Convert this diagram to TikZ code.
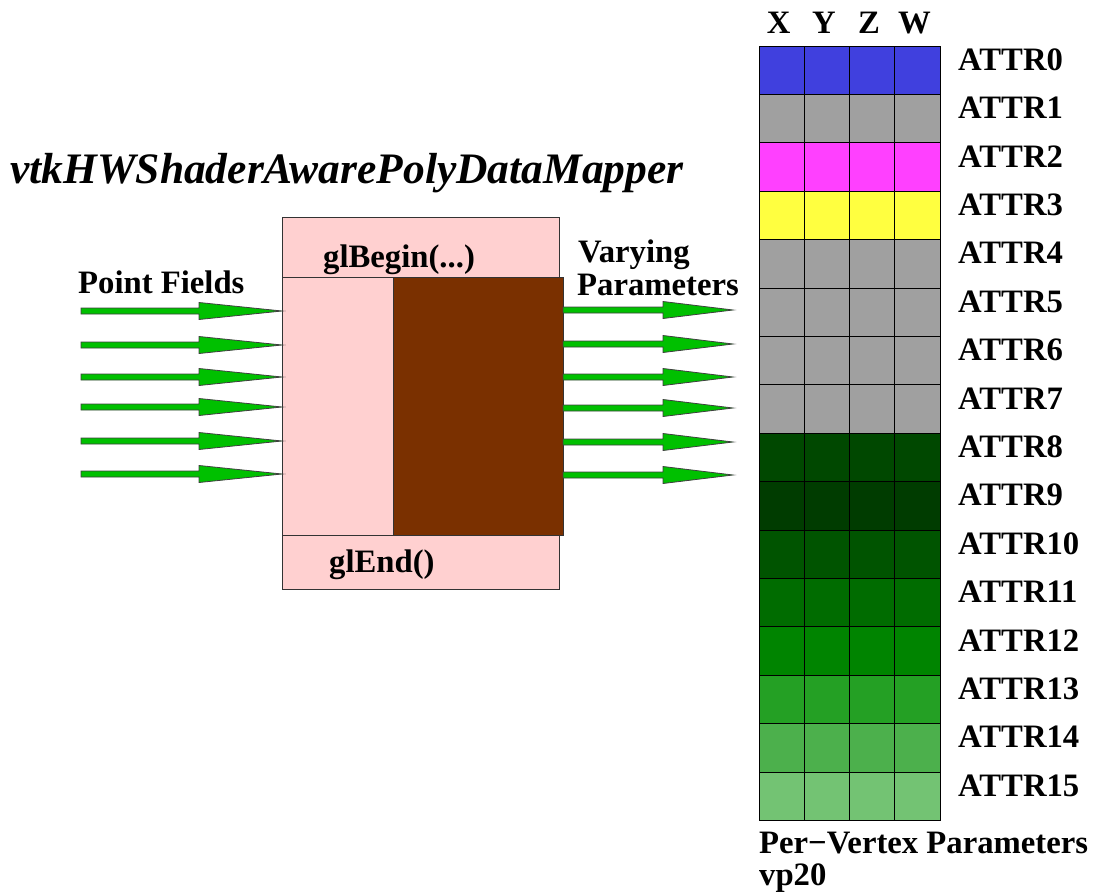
\documentclass[tikz,border=0pt]{standalone}
\usepackage{fontspec}
\setmainfont{Liberation Serif}
\usetikzlibrary{calc}
\definecolor{boxpink}{RGB}{255,208,208}
\definecolor{boxbrown}{RGB}{122,48,0}
\definecolor{arrowgreen}{RGB}{0,192,0}
\definecolor{attrblue}{RGB}{64,64,222}
\definecolor{attrgray}{RGB}{160,160,160}
\definecolor{attrmag}{RGB}{255,64,255}
\definecolor{attryel}{RGB}{255,255,64}
\definecolor{gA}{RGB}{0,72,0}
\definecolor{gB}{RGB}{0,60,0}
\definecolor{gC}{RGB}{0,84,0}
\definecolor{gD}{RGB}{0,108,0}
\definecolor{gE}{RGB}{0,132,0}
\definecolor{gF}{RGB}{36,160,36}
\definecolor{gG}{RGB}{76,176,76}
\definecolor{gH}{RGB}{115,195,115}
\newcommand\fatarrow[3]{%
  \filldraw[fatarrowstyle]
    ($(#1)+(0,3)$) -- ($(#2)+(-#3,3)$) -- ($(#2)+(-#3,8.5)$) -- (#2)
    -- ($(#2)+(-#3,-8.5)$) -- ($(#2)+(-#3,-3)$) -- ($(#1)+(0,-3)$) -- cycle;}
\begin{document}
\begin{tikzpicture}[x=1pt,y=-1pt,
  lbl/.style={font=\fontsize{32.7}{36}\selectfont\bfseries, inner sep=0pt, anchor=base west},
  hdr/.style={font=\fontsize{32.7}{36}\selectfont\bfseries, inner sep=0pt, anchor=base},
  titlestyle/.style={font=\fontsize{43.5}{48}\selectfont\bfseries\itshape, inner sep=0pt, anchor=base west},
  boxrect/.style={draw=black!80, line width=0.8pt, inner sep=0pt, outer sep=0pt, anchor=north west},
  cell/.style={draw=black, line width=0.8pt, inner sep=0pt, outer sep=0pt, anchor=north west,
               minimum width=45.25pt, minimum height=48.4pt},
  fatarrowstyle/.style={fill=arrowgreen, draw=black!75, line width=0.8pt, line join=miter}]
\useasboundingbox (0,0) rectangle (1101,894);

% title
\node[titlestyle] (title) at (10,183) {vtkHWShaderAwarePolyDataMapper};

% mapper box
\node[boxrect, fill=boxpink, minimum width=277pt, minimum height=372pt] (outer) at (282,217) {};
\node[boxrect, fill=boxpink, minimum width=111pt, minimum height=258pt] (inleft) at (282,277) {};
\node[boxrect, fill=boxbrown, minimum width=170pt, minimum height=258pt] (brown) at (393,277) {};
\node[lbl] (glbegin) at (323,267) {glBegin(...)};
\node[lbl] (glend) at (329,572) {glEnd()};

% labels
\node[lbl] (pf) at (78,293) {Point Fields};
\node[lbl] (vary) at (578,262) {Varying};
\node[lbl] (param) at (577,295) {Parameters};

% arrows
\foreach \y [count=\k] in {311,345,377,407,441,474} {
  \coordinate (ls\k) at (81,\y);
  \coordinate (lt\k) at (outer.west |- ls\k);
  \fatarrow{ls\k}{lt\k}{83}
}
\foreach \y [count=\k] in {310,344,377,408,442,475} {
  \coordinate (re\k) at (733,\y);
  \coordinate (rs\k) at (brown.east |- re\k);
  \fatarrow{rs\k}{re\k}{70}
}

% register grid
\foreach \c [count=\i from 0] in {attrblue,attrgray,attrmag,attryel,attrgray,attrgray,attrgray,attrgray,gA,gB,gC,gD,gE,gF,gG,gH} {
  \foreach \j in {0,...,3} {
    \node[cell, fill=\c] (c\i-\j) at ({759+\j*45.25},{46+\i*48.4}) {};
  }
  \node[lbl] (attr\i) at (958,{46+(\i+0.5)*48.4}) {ATTR\i};
}
\foreach \t [count=\j from 0] in {X,Y,Z,W} {
  \node[hdr] (h\t) at ({759+(\j+0.5)*45.25-3},33) {\t};
}
\node[lbl] (pv) at (759,853) {Per−Vertex Parameters};
\node[lbl] (vp) at (759,885) {vp20};
\end{tikzpicture}
\end{document}
